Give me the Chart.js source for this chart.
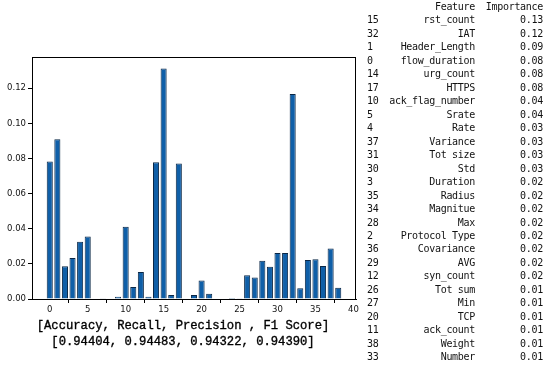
<!DOCTYPE html>
<html>

<head>
	<title>Feature importance</title>
	<style>
		body { margin: 0; background: #fff; width: 550px; height: 370px; position: relative; overflow: hidden; }
		#wrap { position: absolute; left: 0; top: 0; width: 362px; height: 325px; }
		.caption { position: absolute; left: 0; width: 366px; text-align: center; font-family: "Liberation Mono", monospace; font-size: 12.2px; color: #000; white-space: pre; -webkit-text-stroke: 0.35px #000; }
		#table { position: absolute; left: 362px; top: 0; font-family: "DejaVu Sans Mono", monospace; font-size: 10px; letter-spacing: -0.3px; color: #111; }
		#table div { position: absolute; white-space: pre; line-height: 13.47px; }
	</style>
</head>

<body>
	<div id="wrap"><canvas id="bars"></canvas></div>
	<div class="caption" style="top:319px;">[Accuracy, Recall, Precision , F1 Score]</div>
	<div class="caption" style="top:335px;">[0.94404, 0.94483, 0.94322, 0.94390]</div>
	<div id="table"></div>

	<script src="https://cdn.jsdelivr.net/npm/chart.js@4"></script>
	<script>
		// feature index -> importance
		const featureIdx = [];
		for (let i = 0; i <= 38; i++) featureIdx.push(i);
		const importance = [
			0.0783, 0.0910, 0.0186, 0.0233, 0.0326, 0.0356, 0.0000, 0.0004, 0.0000, 0.0013,
			0.0411, 0.0068, 0.0154, 0.0013, 0.0779, 0.1312, 0.0023, 0.0772, 0.0000, 0.0023,
			0.0106, 0.0030, 0.0000, 0.0000, 0.0006, 0.0002, 0.0135, 0.0123, 0.0218, 0.0184,
			0.0262, 0.0262, 0.1168, 0.0061, 0.0222, 0.0226, 0.0188, 0.0288, 0.0064
		];
		const xTicks = [0, 5, 10, 15, 20, 25, 30, 35, 40];
		const yTicks = [0, 0.02, 0.04, 0.06, 0.08, 0.10, 0.12];

		// printed table on the right
		const tableIdx = ['15', '32', '1', '0', '14', '17', '10', '5', '4', '37', '31', '30', '3',
			'35', '34', '28', '2', '36', '29', '12', '26', '27', '20', '11', '38', '33'];
		const tableName = ['rst_count', 'IAT', 'Header_Length', 'flow_duration', 'urg_count', 'HTTPS',
			'ack_flag_number', 'Srate', 'Rate', 'Variance', 'Tot size', 'Std', 'Duration',
			'Radius', 'Magnitue', 'Max', 'Protocol Type', 'Covariance', 'AVG', 'syn_count',
			'Tot sum', 'Min', 'TCP', 'ack_count', 'Weight', 'Number'];
		const tableVal = ['0.13', '0.12', '0.09', '0.08', '0.08', '0.08', '0.04', '0.04', '0.03', '0.03',
			'0.03', '0.03', '0.02', '0.02', '0.02', '0.02', '0.02', '0.02', '0.02', '0.02',
			'0.01', '0.01', '0.01', '0.01', '0.01', '0.01'];

		const table = document.getElementById('table');
		function cell(text, top, left, right) {
			let d = document.createElement('div');
			d.textContent = text;
			d.style.top = top + 'px';
			if (left !== null) d.style.left = left + 'px';
			if (right !== null) d.style.left = (right - 200) + 'px', d.style.width = '200px', d.style.textAlign = 'right';
			table.appendChild(d);
		}
		cell('Feature', 0, null, 113);
		cell('Importance', 0, null, 181);
		for (let i = 0; i < tableIdx.length; i++) {
			let top = 13.47 * (i + 1);
			cell(tableIdx[i], top, 5, null);
			cell(tableName[i], top, null, 113);
			cell(tableVal[i], top, null, 181);
		}

		const frame = {
			id: 'frame',
			afterDraw(chart) {
				const a = chart.chartArea, c = chart.ctx;
				c.save();
				c.strokeStyle = '#000';
				c.lineWidth = 1;
				c.strokeRect(a.left + 0.5, a.top + 0.5, a.right - a.left - 1, a.bottom - a.top);
				c.restore();
			}
		};

		const tickFont = { family: 'DejaVu Sans', size: 8.5 };
		let ctx = document.getElementById('bars').getContext('2d');
		let chart = new Chart(ctx, {
			type: 'bar',
			data: {
				datasets: [{
					data: featureIdx.map((x, i) => ({ x: x, y: importance[i] })),
					backgroundColor: '#0f5fa8',
					borderColor: '#0a2746',
					borderWidth: 1,
					barPercentage: 0.8,
					categoryPercentage: 1
				}]
			},
			options: {
				responsive: true,
				maintainAspectRatio: false,
				animation: false,
				layout: { padding: { top: 57, right: 6, left: 0, bottom: 0 } },
				plugins: { legend: { display: false }, tooltip: { enabled: false } },
				scales: {
					x: {
						type: 'linear',
						offset: false,
						min: -2.34,
						max: 40.34,
						afterBuildTicks: axis => { axis.ticks = xTicks.map(v => ({ value: v })); },
						afterFit: axis => { axis.height = 26; },
						grid: { drawOnChartArea: false, tickLength: 4, color: '#000' },
						border: { color: '#000' },
						ticks: { font: tickFont, color: '#111', padding: 2, maxRotation: 0 }
					},
					y: {
						min: 0,
						max: 0.1378,
						afterBuildTicks: axis => { axis.ticks = yTicks.map(v => ({ value: v })); },
						afterFit: axis => { axis.width = 32; },
						grid: { drawOnChartArea: false, tickLength: 4, color: '#000' },
						border: { color: '#000' },
						ticks: { font: tickFont, color: '#111', padding: 2, callback: v => v.toFixed(2) }
					}
				}
			},
			plugins: [frame]
		});
	</script>
</body>

</html>
